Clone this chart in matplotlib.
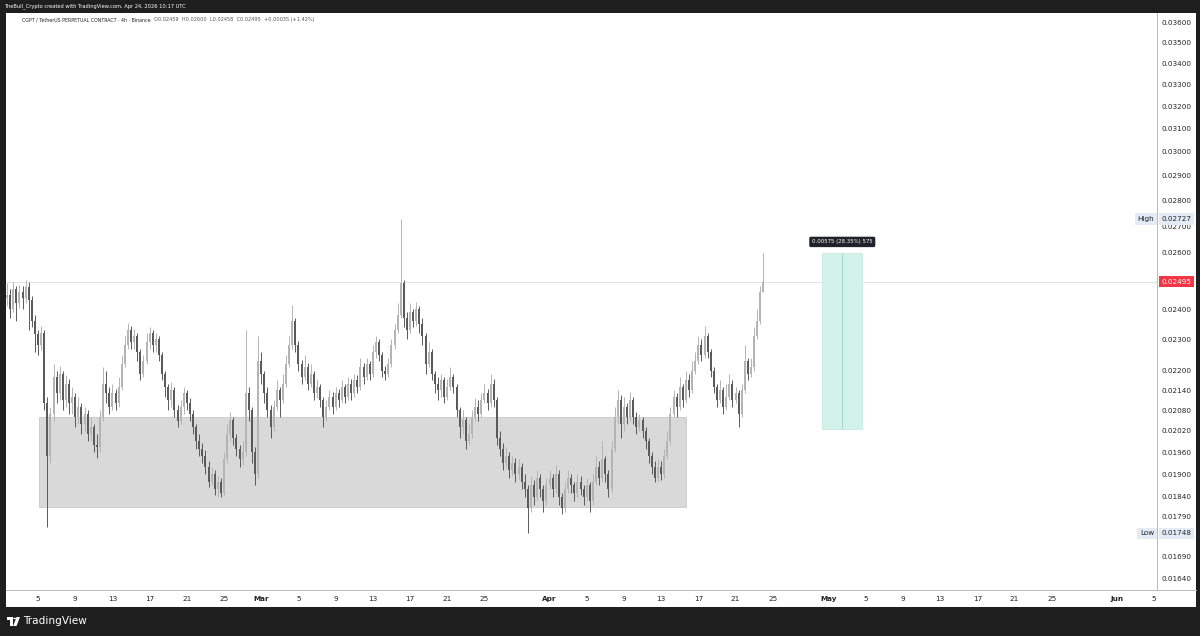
import datetime as dt
import numpy as np
import matplotlib
matplotlib.use("Agg")
import matplotlib.pyplot as plt
import matplotlib.dates as mdates
from matplotlib.patches import Rectangle, Circle, Polygon
from matplotlib.ticker import NullLocator, NullFormatter
from matplotlib.transforms import blended_transform_factory

# CGPT/USDT perp, candles (8h steps), prices in 1e-5 USDT
start = dt.datetime(2026, 2, 1, 16)
first_open = 2440
close = [2450, 2402, 2468, 2421, 2459, 2437, 2476, 2430, 2360, 2318, 2280,
         2320, 2100, 1950, 2070, 2180, 2130, 2190, 2110, 2160, 2100,
         2120, 2060, 2090, 2040, 2070, 2010, 2030, 1980, 1975, 2060,
         2160, 2130, 2090, 2130, 2100, 2150, 2220, 2280, 2330, 2290,
         2310, 2260, 2190, 2230, 2290, 2320, 2280, 2300, 2250, 2190,
         2150, 2110, 2140, 2080, 2050, 2090, 2130, 2100, 2070, 2030,
         1990, 1970, 1950, 1920, 1880, 1900, 1860, 1880, 1850, 1940,
         2010, 2050, 2000, 1970, 1940, 1960, 2130, 2080, 1960, 1900,
         2230, 2190, 2130, 2080, 2030, 2090, 2140, 2110, 2160, 2220,
         2280, 2360, 2280, 2220, 2180, 2210, 2160, 2190, 2130, 2150,
         2110, 2060, 2090, 2120, 2090, 2130, 2110, 2150, 2120, 2160,
         2130, 2170, 2150, 2210, 2180, 2220, 2190, 2260, 2290, 2250,
         2200, 2190, 2220, 2280, 2330, 2380, 2490, 2370, 2330, 2390,
         2360, 2400, 2350, 2310, 2220, 2260, 2190, 2160, 2140, 2170,
         2120, 2150, 2180, 2150, 2080, 2030, 2050, 1990, 2010, 2060,
         2090, 2070, 2110, 2130, 2100, 2160, 2110, 2000, 1970, 1930,
         1950, 1910, 1930, 1900, 1920, 1880, 1860, 1810, 1870, 1840,
         1890, 1860, 1830, 1870, 1890, 1860, 1900, 1840, 1810, 1860,
         1890, 1870, 1850, 1880, 1860, 1840, 1870, 1830, 1880, 1920,
         1890, 1940, 1900, 1860, 1970, 2060, 2110, 2040, 2090, 2060,
         2110, 2060, 2030, 2050, 2020, 1990, 1950, 1920, 1890, 1920,
         1900, 1950, 1990, 2070, 2120, 2090, 2150, 2110, 2170, 2140,
         2200, 2230, 2280, 2250, 2310, 2260, 2200, 2150, 2110, 2140,
         2090, 2120, 2160, 2110, 2130, 2070, 2140, 2230, 2190, 2210,
         2310, 2360, 2459, 2495]
high = [2490, 2470, 2495, 2480, 2485, 2480, 2500, 2495, 2445, 2380, 2330,
        2345, 2330, 2120, 2090, 2220, 2200, 2215, 2200, 2185, 2175,
        2150, 2130, 2120, 2100, 2090, 2080, 2060, 2040, 2010, 2080,
        2210, 2200, 2150, 2160, 2145, 2180, 2250, 2310, 2355, 2345,
        2335, 2320, 2270, 2250, 2320, 2340, 2330, 2320, 2310, 2260,
        2200, 2160, 2165, 2150, 2095, 2110, 2150, 2140, 2115, 2080,
        2040, 2010, 1985, 1965, 1935, 1920, 1910, 1895, 1890, 1960,
        2040, 2075, 2060, 2010, 1980, 1990, 2330, 2150, 2090, 1975,
        2310, 2260, 2200, 2150, 2095, 2110, 2170, 2150, 2190, 2250,
        2310, 2415, 2370, 2295, 2235, 2250, 2225, 2220, 2200, 2175,
        2160, 2120, 2110, 2140, 2135, 2150, 2145, 2170, 2160, 2180,
        2175, 2190, 2185, 2240, 2225, 2240, 2230, 2280, 2310, 2300,
        2260, 2215, 2240, 2300, 2350, 2420, 2727, 2500, 2390, 2420,
        2400, 2425, 2410, 2370, 2320, 2290, 2270, 2200, 2180, 2190,
        2180, 2175, 2210, 2190, 2160, 2090, 2080, 2060, 2040, 2080,
        2115, 2110, 2130, 2160, 2145, 2190, 2175, 2120, 2020, 1985,
        1975, 1960, 1950, 1945, 1940, 1930, 1900, 1870, 1895, 1885,
        1910, 1900, 1870, 1890, 1910, 1900, 1925, 1910, 1850, 1880,
        1910, 1900, 1880, 1900, 1895, 1870, 1890, 1880, 1900, 1950,
        1935, 1990, 1950, 1910, 1990, 2090, 2140, 2125, 2120, 2100,
        2135, 2120, 2075, 2070, 2060, 2030, 2000, 1960, 1935, 1940,
        1935, 1970, 2020, 2090, 2140, 2130, 2180, 2160, 2200, 2190,
        2230, 2260, 2310, 2300, 2345, 2320, 2270, 2210, 2160, 2170,
        2150, 2160, 2190, 2170, 2150, 2140, 2160, 2280, 2240, 2240,
        2340, 2400, 2480, 2600]
low = [2410, 2370, 2390, 2360, 2405, 2400, 2420, 2330, 2340, 2260, 2250,
       2265, 2080, 1762, 1930, 2050, 2100, 2110, 2080, 2090, 2070,
       2070, 2030, 2040, 2010, 2020, 1990, 1990, 1960, 1945, 1960,
       2050, 2100, 2070, 2080, 2080, 2090, 2140, 2210, 2270, 2270,
       2270, 2230, 2170, 2180, 2220, 2270, 2260, 2260, 2230, 2170,
       2120, 2080, 2090, 2060, 2030, 2040, 2070, 2080, 2050, 2010,
       1970, 1950, 1930, 1900, 1865, 1870, 1845, 1840, 1840, 1845,
       1930, 1990, 1980, 1950, 1920, 1925, 1950, 2050, 1930, 1870,
       1890, 2160, 2100, 2060, 2000, 2020, 2080, 2060, 2100, 2150,
       2210, 2270, 2260, 2200, 2160, 2170, 2140, 2150, 2110, 2115,
       2090, 2030, 2050, 2080, 2070, 2080, 2090, 2100, 2100, 2110,
       2110, 2120, 2130, 2140, 2160, 2170, 2170, 2180, 2240, 2230,
       2180, 2170, 2180, 2210, 2270, 2320, 2370, 2340, 2300, 2320,
       2340, 2345, 2320, 2280, 2190, 2210, 2170, 2130, 2110, 2120,
       2100, 2110, 2140, 2130, 2060, 2000, 2010, 1970, 1980, 2000,
       2050, 2050, 2060, 2100, 2080, 2090, 2090, 1980, 1950, 1910,
       1920, 1890, 1895, 1880, 1885, 1860, 1840, 1748, 1800, 1820,
       1830, 1840, 1800, 1820, 1860, 1840, 1850, 1820, 1795, 1800,
       1850, 1850, 1830, 1840, 1845, 1820, 1830, 1800, 1820, 1870,
       1870, 1880, 1880, 1840, 1850, 1960, 2040, 2000, 2020, 2040,
       2050, 2040, 2010, 2020, 2000, 1970, 1930, 1900, 1880, 1880,
       1885, 1890, 1940, 1980, 2060, 2060, 2080, 2090, 2100, 2120,
       2130, 2190, 2220, 2230, 2240, 2240, 2180, 2130, 2090, 2100,
       2070, 2080, 2110, 2090, 2100, 2030, 2060, 2130, 2170, 2180,
       2200, 2300, 2350, 2458]

# drawings
zone_time = (dt.datetime(2026, 2, 5, 3), dt.datetime(2026, 4, 15, 16))
zone_price = (0.01813, 0.02059)
measure_time = (dt.datetime(2026, 4, 30, 8), dt.datetime(2026, 5, 4, 15))
measure_price = (0.02025, 0.02600)
measure_label = "0.00575 (28.35%) 575"
last_price = 0.02495
hi_mark = 0.02727
lo_mark = 0.01748

yticks = [0.036, 0.035, 0.034, 0.033, 0.032, 0.031, 0.030, 0.029, 0.028, 0.027,
          0.026, 0.024, 0.023, 0.022, 0.0214, 0.0208, 0.0202, 0.0196, 0.0190,
          0.0184, 0.0179, 0.0169, 0.0164]
tick_days = [1, 5, 9, 13, 17, 21, 25]
months = [2, 3, 4, 5, 6]

W, H = 1200, 636
DARK = "#1e1e1e"
FS = 5.2


def fx(px):
    return px / W


def fy(py):
    return 1 - py / H


fig = plt.figure(figsize=(W / 100, H / 100), dpi=100, facecolor=DARK)
# white panel
fig.add_artist(Rectangle((fx(6), fy(607)), fx(1190), 594 / H, transform=fig.transFigure,
                         facecolor="white", edgecolor="none", zorder=0))

ax = fig.add_axes([fx(6), fy(590), fx(1151), 577 / H])
ax.set_facecolor("white")
ax.set_yscale("log")

o = np.array([first_open] + close[:-1]) / 1e5
c = np.array(close) / 1e5
h = np.maximum(np.array(high) / 1e5, np.maximum(o, c))
l = np.minimum(np.array(low) / 1e5, np.minimum(o, c))
t = mdates.date2num([start + dt.timedelta(hours=8 * i) for i in range(len(close))])

up = c >= o
col = np.where(up, "#b4b4b4", "#5a5a5a")
ax.vlines(t, l, h, colors=col, linewidth=0.7, zorder=3)
ax.bar(t, np.abs(c - o) + 1e-6, bottom=np.minimum(o, c), width=0.2, color=col,
       linewidth=0, zorder=3)

# grey demand zone
z0, z1 = mdates.date2num(zone_time)
ax.add_patch(Rectangle((z0, zone_price[0]), z1 - z0, zone_price[1] - zone_price[0],
                       facecolor="#d9d9d9", edgecolor="#c9c9c9", linewidth=0.6, zorder=1))

# measure box
m0, m1 = mdates.date2num(measure_time)
ax.add_patch(Rectangle((m0, measure_price[0]), m1 - m0, measure_price[1] - measure_price[0],
                       facecolor="#d3f2e9", edgecolor="#c2e9dd", linewidth=0.5, zorder=1))
mid = (m0 + m1) / 2
ax.vlines([mid], measure_price[0], measure_price[1], colors="#9fd3c3", linewidth=0.6, zorder=2)
ax.text(mid, 0.02640, measure_label, ha="center", va="center", fontsize=3.9,
        color="white", zorder=5,
        bbox=dict(boxstyle="round,pad=0.5,rounding_size=0.3", facecolor="#1f222b",
                  edgecolor="none"))

# last price line
ax.axhline(last_price, color="#e4e4e4", linewidth=0.8, zorder=0.5)

ax.set_ylim(0.016125, 0.03651)
x_left = mdates.date2num(dt.datetime(2026, 2, 1, 13, 25))
x_right = mdates.date2num(dt.datetime(2026, 6, 5, 7, 40))
ax.set_xlim(x_left, x_right)

# y axis
ax.yaxis.tick_right()
ax.yaxis.set_minor_locator(NullLocator())
ax.yaxis.set_minor_formatter(NullFormatter())
ax.set_yticks(yticks)
ax.set_yticklabels(["%.5f" % v for v in yticks])
ax.tick_params(axis="y", length=0, pad=3.2, labelsize=FS, labelcolor="#222222")

# x axis
xt, xl = [], []
for m in months:
    for d in tick_days:
        v = mdates.date2num(dt.datetime(2026, m, d))
        if x_left < v <= x_right:
            xt.append(v)
            xl.append(dt.date(2026, m, d).strftime("%b") if d == 1 else str(d))
ax.set_xticks(xt)
ax.set_xticklabels(xl)
ax.tick_params(axis="x", length=0, pad=4.5, labelsize=FS, labelcolor="#222222")
for lab in ax.get_xticklabels():
    if not lab.get_text().isdigit():
        lab.set_fontweight("bold")

for s in ["top", "left"]:
    ax.spines[s].set_visible(False)
ax.spines["right"].set_color("#b8b8b8")
ax.spines["bottom"].set_color("#b8b8b8")
ax.spines["right"].set_linewidth(0.7)
ax.spines["bottom"].set_linewidth(0.7)
fig.add_artist(plt.Line2D([fx(1157), fx(1196)], [fy(590), fy(590)], transform=fig.transFigure,
                          color="#b8b8b8", linewidth=0.7))

# price tags on the scale
tr = blended_transform_factory(ax.transAxes, ax.transData)
tag_x = (1176.5 - 6) / 1151
ax.text(tag_x, last_price, "%.5f" % last_price, transform=tr, ha="center", va="center",
        fontsize=FS, color="white", clip_on=False, zorder=6,
        bbox=dict(boxstyle="square,pad=0.35", facecolor="#f23645", edgecolor="none"))
for val, name in [(hi_mark, "High"), (lo_mark, "Low")]:
    ax.text(tag_x, val, "%.5f" % val, transform=tr, ha="center", va="center",
            fontsize=FS, color="#222222", clip_on=False, zorder=6,
            bbox=dict(boxstyle="square,pad=0.35", facecolor="#e3ecf6", edgecolor="none"))
    ax.text((1154 - 6) / 1151, val, name, transform=tr, ha="right", va="center",
            fontsize=FS, color="#222222", clip_on=False, zorder=6,
            bbox=dict(boxstyle="square,pad=0.35", facecolor="#e3ecf6", edgecolor="none"))

# header texts
fig.text(fx(4), fy(6.5), "TheBull_Crypto created with TradingView.com, Apr 24, 2026 10:17 UTC",
         color="white", fontsize=3.7, va="center", ha="left")
fig.text(fx(22), fy(20), "CGPT / TetherUS PERPETUAL CONTRACT · 4h · Binance", color="#222222",
         fontsize=3.4, va="center", ha="left")
fig.text(fx(154), fy(20), "O0.02459  H0.02600  L0.02458  C0.02495  +0.00035 (+1.42%)",
         color="#555555", fontsize=3.6, va="center", ha="left")

# footer logo
fig.add_artist(Rectangle((fx(7), fy(619.5)), fx(5.5), 2.5 / H, transform=fig.transFigure,
                         facecolor="white", edgecolor="none"))
fig.add_artist(Rectangle((fx(10), fy(626)), fx(2.5), 9 / H, transform=fig.transFigure,
                         facecolor="white", edgecolor="none"))
fig.add_artist(Circle((fx(14.6), fy(618.4)), 1.4 / W, transform=fig.transFigure,
                      facecolor="white", edgecolor="none"))
fig.add_artist(Polygon([(fx(16.5), fy(617)), (fx(20), fy(617)), (fx(16.5), fy(626)),
                        (fx(13.2), fy(626))], closed=True, transform=fig.transFigure,
                       facecolor="white", edgecolor="none"))
fig.text(fx(23), fy(621.5), "TradingView", color="white", fontsize=7.6, va="center", ha="left")

fig.savefig("out.png", dpi=100, facecolor=DARK)
